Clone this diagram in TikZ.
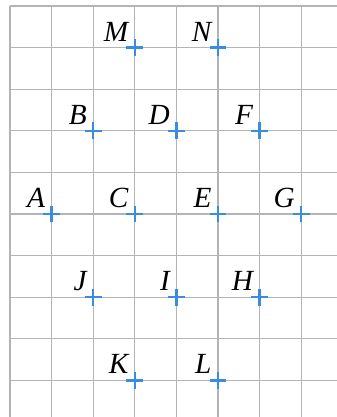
\documentclass[tikz,border=0pt]{standalone}
\usepackage{fontspec}
\setmainfont{Liberation Serif}
\usetikzlibrary{positioning}
\definecolor{gridgray}{HTML}{B4B4B4}
\definecolor{crossblue}{HTML}{3A8DDE}

\begin{document}
\begin{tikzpicture}[
        gridline/.style={gridgray, line width=0.8pt},
        cross/.style={crossblue, line width=1.6pt},
        lbl/.style={font=\fontsize{20}{24}\selectfont\itshape, inner sep=0pt},
      ]
        \useasboundingbox (-0.24,0.144) rectangle (7.86,-9.88);
        \draw[gridline, step=1] (0,-9.88) grid (7.86,0);
        % points on the grid
        \coordinate (M) at (3,-1);
        \coordinate (N) at (5,-1);
        \coordinate (B) at (2,-3);
        \coordinate (D) at (4,-3);
        \coordinate (F) at (6,-3);
        \coordinate (A) at (1,-5);
        \coordinate (C) at (3,-5);
        \coordinate (E) at (5,-5);
        \coordinate (G) at (7,-5);
        \coordinate (J) at (2,-7);
        \coordinate (I) at (4,-7);
        \coordinate (H) at (6,-7);
        \coordinate (K) at (3,-9);
        \coordinate (L) at (5,-9);
        \foreach \p in {M,N,B,D,F,A,C,E,G,J,I,H,K,L}
          \draw[cross] (\p) +(-0.2,0) -- +(0.2,0) +(0,-0.2) -- +(0,0.2);
        % labels
        \node[lbl, above left=0.15 and 0.15 of M] (lM) {M};
        \node[lbl, above left=0.15 and 0.15 of N] (lN) {N};
        \node[lbl, above left=0.15 and 0.15 of B] (lB) {B};
        \node[lbl, above left=0.15 and 0.15 of D] (lD) {D};
        \node[lbl, above left=0.15 and 0.15 of F] (lF) {F};
        \node[lbl, above left=0.15 and 0.15 of A] (lA) {A};
        \node[lbl, above left=0.15 and 0.15 of C] (lC) {C};
        \node[lbl, above left=0.15 and 0.15 of E] (lE) {E};
        \node[lbl, above left=0.15 and 0.15 of G] (lG) {G};
        \node[lbl, above left=0.15 and 0.15 of J] (lJ) {J};
        \node[lbl, above left=0.15 and 0.15 of I] (lI) {I};
        \node[lbl, above left=0.15 and 0.15 of H] (lH) {H};
        \node[lbl, above left=0.15 and 0.15 of K] (lK) {K};
        \node[lbl, above left=0.15 and 0.15 of L] (lL) {L};
      \end{tikzpicture}
\end{document}
